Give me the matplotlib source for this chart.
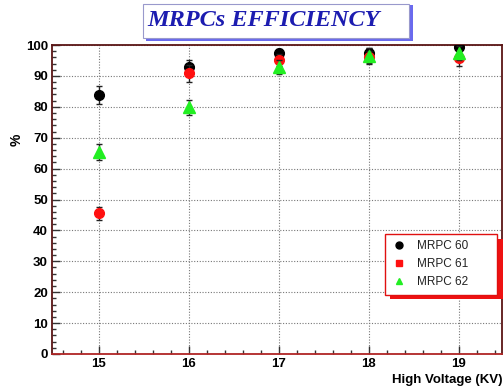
import numpy as np
import matplotlib as mpl
mpl.use('Agg')
import matplotlib.pyplot as plt
from matplotlib.patches import Rectangle
from matplotlib.lines import Line2D
from matplotlib.ticker import MultipleLocator

# high voltage points (kV)
hv = [15, 16, 17, 18, 19]

# efficiency (%) and errors for each chamber
eff60 = [83.8, 92.8, 97.3, 97.4, 99.3]
err60 = [3.0, 2.2, 1.5, 1.5, 1.0]
eff61 = [45.5, 90.8, 95.2, 96.0, 95.8]
err61 = [2.0, 2.8, 2.0, 2.0, 2.5]
eff62 = [65.3, 79.8, 92.8, 96.6, 97.3]
err62 = [2.5, 2.5, 2.3, 2.5, 2.3]

labels = ['MRPC 60', 'MRPC 61', 'MRPC 62']

W, H = 504, 389
fig = plt.figure(figsize=(W/100., H/100.), dpi=100)
fig.patch.set_facecolor('white')

axL = fig.add_axes([52/W, 1-354/H, 450/W, 309/H])
axL.set_xlim(14.48, 19.48)
axL.set_ylim(0, 100)

axL.xaxis.set_major_locator(MultipleLocator(1))
axL.xaxis.set_minor_locator(MultipleLocator(0.2))
axL.yaxis.set_major_locator(MultipleLocator(10))
axL.yaxis.set_minor_locator(MultipleLocator(2))
axL.tick_params(which='both', direction='in', color='#333333', width=1.0)
axL.tick_params(which='major', length=6)
axL.tick_params(which='minor', length=3)
axL.tick_params(axis='both', labelsize=9.5, pad=3)
for lab in axL.get_xticklabels() + axL.get_yticklabels():
    lab.set_fontweight('bold')
    lab.set_fontfamily('Liberation Sans')

axL.grid(True, which='major', linestyle=(0, (1, 1.5)), color='#777777', linewidth=0.8)
for s in ['left', 'top', 'right']:
    axL.spines[s].set_color('#5a1515')
axL.spines['bottom'].set_color('#b02525')
for s in axL.spines.values():
    s.set_linewidth(1.3)

# data: draw order black, red, green
axL.errorbar(hv, eff60, yerr=err60, fmt='o', color='black', ms=7,
             ecolor='#222222', elinewidth=1, capsize=2, zorder=3)
axL.errorbar(hv, eff61, yerr=err61, fmt='o', color='#ff1010', ms=7,
             ecolor='#222222', elinewidth=1, capsize=2, zorder=4)
axL.errorbar(hv, eff62, yerr=err62, fmt='^', color='#22ee22', ms=8,
             ecolor='#222222', elinewidth=1, capsize=2, zorder=4.5)

# legend with red shadow
handles = [Line2D([], [], marker='o', ls='none', color='black', ms=5),
           Line2D([], [], marker='s', ls='none', color='#ff1010', ms=4.5),
           Line2D([], [], marker='^', ls='none', color='#22ee22', ms=5)]
leg = axL.legend(handles, labels, loc='upper left', mode='expand',
                 bbox_to_anchor=(385/W, 1-293/H, 112/W, 59/H),
                 bbox_transform=fig.transFigure,
                 borderaxespad=0, fancybox=False, framealpha=1,
                 edgecolor='#e01010', handlelength=1.2, handletextpad=1.0,
                 borderpad=0.55, labelspacing=0.5,
                 prop={'family': 'Liberation Sans', 'size': 8.5})
leg.get_frame().set_linewidth(1.0)
leg.set_zorder(6)
for t in leg.get_texts():
    t.set_color('#222222')
axL.add_patch(Rectangle((390/W, 1-299/H), 113/W, 60/H, transform=fig.transFigure,
                        facecolor='#ee1111', edgecolor='none', zorder=5.5, clip_on=False))

# axis titles
fig.text(17/W, 1-140/H, '%', rotation=90, ha='center', va='center',
         fontsize=10, fontweight='bold', family='Liberation Sans')
fig.text(502/W, 1-380/H, 'High Voltage (KV)', ha='right', va='center',
         fontsize=9.5, fontweight='bold', family='Liberation Sans')

# title box
fig.patches.append(Rectangle((146/W, 1-41/H), 267/W, 36/H, transform=fig.transFigure,
                             facecolor='#6a6aee', edgecolor='none', zorder=1))
fig.patches.append(Rectangle((143/W, 1-38/H), 266/W, 34/H, transform=fig.transFigure,
                             facecolor='white', edgecolor='#9999cc', linewidth=0.8, zorder=2))
fig.text(147/W, 1-21/H, 'MRPCs EFFICIENCY', ha='left', va='center',
         fontsize=17.5, fontweight='bold', fontstyle='italic',
         family='Liberation Serif', color='#1c1cb0', zorder=3)

fig.savefig('out.png', dpi=100)
